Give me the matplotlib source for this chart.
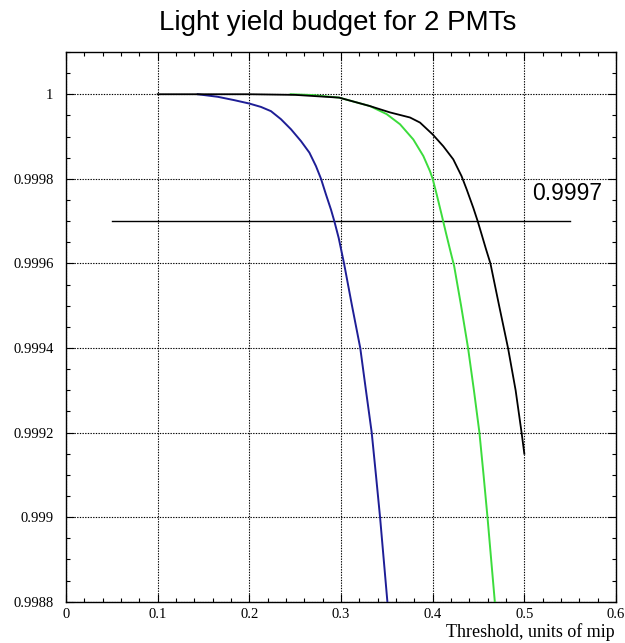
import matplotlib
matplotlib.use('Agg')
from matplotlib import pyplot as plt
from matplotlib.ticker import MultipleLocator, FuncFormatter

# threshold (units of mip) vs efficiency
blue_x = [0.1436, 0.1655, 0.1836, 0.2, 0.2127, 0.2236, 0.2345, 0.2455, 0.2564,
          0.2655, 0.2727, 0.2782, 0.2836, 0.2891, 0.2927, 0.2975, 0.3033, 0.312,
          0.321, 0.3272, 0.3335, 0.3381, 0.3426, 0.3466, 0.3506]
blue_y = [1.0, 0.999994, 0.999986, 0.999978, 0.99997, 0.99996, 0.999941, 0.999917,
          0.999889, 0.999862, 0.99983, 0.9998, 0.999763, 0.999727, 0.9997, 0.99966,
          0.9996, 0.9995, 0.9994, 0.9993, 0.9992, 0.9991, 0.999, 0.9989, 0.9988]

green_x = [0.245, 0.27, 0.298, 0.3316, 0.3498, 0.3644, 0.3789, 0.3898, 0.3971, 0.4,
           0.4044, 0.4098, 0.4145, 0.419, 0.4235, 0.431, 0.4386, 0.445, 0.451,
           0.4555, 0.4598, 0.4638, 0.4678]
green_y = [1.0, 0.999998, 0.999992, 0.999972, 0.999953, 0.999929, 0.999893, 0.999854,
           0.999818, 0.9998, 0.999763, 0.999715, 0.999672, 0.999632, 0.999593, 0.9995,
           0.9994, 0.9993, 0.9992, 0.9991, 0.999, 0.9989, 0.9988]

black_x = [0.1, 0.15, 0.2, 0.25, 0.298, 0.3316, 0.3535, 0.3753, 0.3862, 0.4, 0.4116,
           0.4225, 0.4316, 0.4371, 0.4444, 0.4491, 0.4535, 0.458, 0.463, 0.4725,
           0.4822, 0.4905, 0.497, 0.5]
black_y = [1.0, 1.0, 1.0, 0.9999985, 0.999992, 0.999972, 0.999957, 0.999945, 0.999933,
           0.999905, 0.999877, 0.999846, 0.999806, 0.999775, 0.999731, 0.9997,
           0.999668, 0.999635, 0.9996, 0.9995, 0.9994, 0.9993, 0.9992, 0.99915]

level = 0.9997
level_x = [0.05, 0.55]

SERIF = 'Liberation Serif'
SANS = 'Liberation Sans'

fig = plt.figure(figsize=(6.25, 6.43), dpi=100)
ax = fig.add_axes([0.1056, 0.0642, 0.88, 0.855])

ax.plot(blue_x, blue_y, color='#1e1e96', lw=1.4, zorder=3)
ax.plot(green_x, green_y, color='#3cdc3c', lw=1.4, zorder=3)
ax.plot(black_x, black_y, color='black', lw=1.3, zorder=4)
ax.plot(level_x, [level, level], color='black', lw=1.0, zorder=2)
ax.text(0.509, 0.99975, '0.9997', family=SANS, fontsize=16.5, va='baseline')

ax.set_xlim(0, 0.6)
ax.set_ylim(0.9988, 1.0001)
ax.xaxis.set_major_locator(MultipleLocator(0.1))
ax.xaxis.set_minor_locator(MultipleLocator(0.02))
ax.yaxis.set_major_locator(MultipleLocator(0.0002))
ax.yaxis.set_minor_locator(MultipleLocator(0.00005))
ax.xaxis.set_major_formatter(FuncFormatter(lambda v, p: f'{v:.6g}'))
ax.yaxis.set_major_formatter(FuncFormatter(lambda v, p: f'{v:.6g}'))

ax.grid(True, which='major', color='black', ls=(0, (1.2, 1.2)), lw=0.8)
ax.tick_params(which='both', direction='in', top=True, right=True, width=0.8)
ax.tick_params(which='major', length=6)
ax.tick_params(which='minor', length=3)
ax.tick_params(axis='y', pad=9)
ax.tick_params(axis='x', pad=4.5)
for lab in ax.get_xticklabels() + ax.get_yticklabels():
    lab.set_family(SERIF)
    lab.set_fontsize(10.5)
for s in ax.spines.values():
    s.set_linewidth(1.0)

fig.text(0.541, 0.964, 'Light yield budget for 2 PMTs', family=SANS, fontsize=20,
         ha='center', va='center')
fig.text(0.984, 0.009, 'Threshold, units of mip', family=SERIF, fontsize=13,
         ha='right', va='baseline')

plt.savefig('out.png', dpi=100)
plt.close()
